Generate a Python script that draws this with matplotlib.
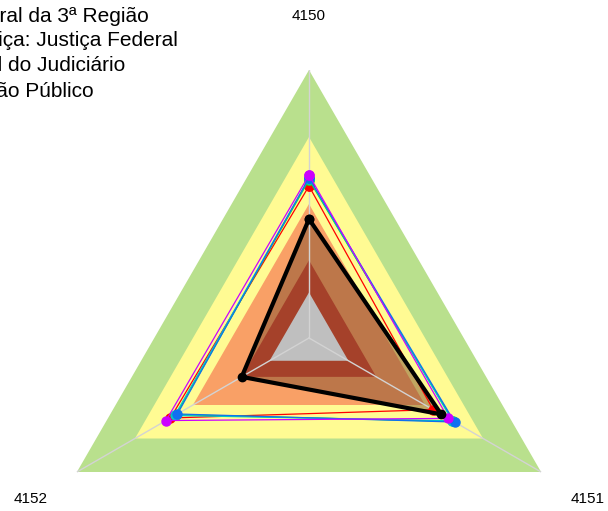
import matplotlib
matplotlib.use("Agg")
import matplotlib.pyplot as plt
import numpy as np

plt.rcParams['font.family'] = ['Liberation Sans', 'DejaVu Sans']

# axes of the radar, clockwise from the top
axis_labels = ['4150', '4151', '4152']

# background bands (outer limit of each band, fraction of full scale)
band_levels = [1.0, 0.75, 0.5, 0.29, 0.17]
band_colors = ['#B9E08D', '#FFFB93', '#F9A066', '#A5412A', '#BFBFBF']

# series values (4150, 4151, 4152)
black_vals = [0.444, 0.57, 0.29]
red_vals = [0.567, 0.535, 0.597]
green_vals = [0.59, 0.622, 0.572]
cyan_vals = [0.595, 0.618, 0.578]
blue_vals = [0.597, 0.627, 0.567]
purple_vals = [0.608, 0.60, 0.616]

legend_lines = ['Tribunal Regional Federal da 3ª Região',
                'Ramo de Justiça: Justiça Federal',
                'Média Nacional do Judiciário',
                'Média por Órgão Público']

theta = np.linspace(0, 2 * np.pi, len(axis_labels), endpoint=False)
theta_c = np.append(theta, theta[0])

def closed(v):
    return np.append(v, v[0])

fig = plt.figure(figsize=(6.08, 5.11), dpi=100)
ax = fig.add_axes([41 / 608, -95 / 511, 536 / 608, 536 / 511], projection='polar')
ax.set_theta_offset(np.pi / 2)
ax.set_theta_direction(-1)
ax.set_ylim(0, 1)
ax.axis('off')

# bands, outer to inner; black series fill goes between salmon and dark red
for lvl, col in zip(band_levels[:3], band_colors[:3]):
    ax.fill(theta_c, closed([lvl] * 3), color=col, lw=0, zorder=1)
ax.fill(theta_c, closed(black_vals), color='#82502F', alpha=0.5, lw=0, zorder=2)
for lvl, col in zip(band_levels[3:], band_colors[3:]):
    ax.fill(theta_c, closed([lvl] * 3), color=col, lw=0, zorder=3)

# spokes
for t in theta:
    ax.plot([t, t], [0, 1], color='#D3D3D3', lw=1, zorder=4)

series = [(red_vals, '#FF0000'), (green_vals, '#22DD22'), (cyan_vals, '#00C8C8'),
          (blue_vals, '#1070F0'), (purple_vals, '#CC00FF')]
for vals, col in series:
    ax.plot(theta_c, closed(vals), color=col, lw=0.9, marker='o', ms=6.5, zorder=5)

ax.plot(theta_c, closed(black_vals), color='black', lw=3, marker='o', ms=6, zorder=6)

for t, lab in zip(theta, axis_labels):
    ax.text(t, 1.2, lab, ha='center', va='center', fontsize=11)

# legend (left part runs off the figure)
ends = [149, 178, 125, 94]
for i, (txt, xe) in enumerate(zip(legend_lines, ends)):
    fig.text(xe / 608, 1 - (16 + 24.7 * i) / 511, txt, ha='right', va='center', fontsize=15)

fig.savefig('out.png', dpi=100)
